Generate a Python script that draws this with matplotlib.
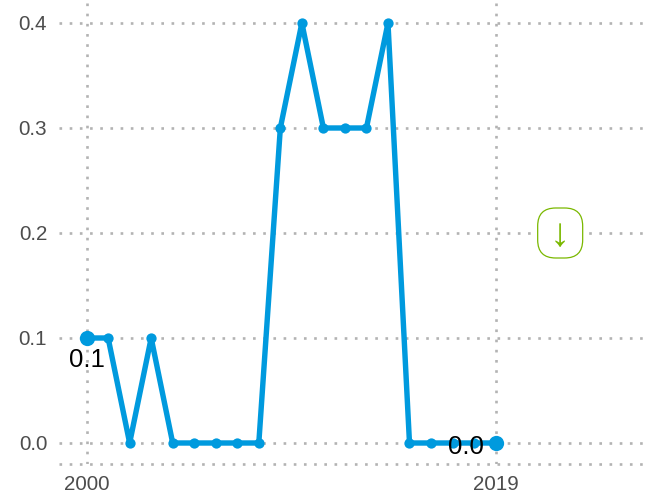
import matplotlib
matplotlib.use('Agg')
import matplotlib.pyplot as plt
from matplotlib.patches import FancyBboxPatch
from matplotlib.transforms import Affine2D

years = list(range(2000, 2020))
values = [0.1, 0.1, 0.0, 0.1, 0.0, 0.0, 0.0, 0.0, 0.0, 0.3,
          0.4, 0.3, 0.3, 0.3, 0.4, 0.0, 0.0, 0.0, 0.0, 0.0]
xticks = [2000, 2019]
yticks = [0.0, 0.1, 0.2, 0.3, 0.4]
start_label = '0.1'
end_label = '0.0'
trend_arrow = '\u2193'

W, H = 647, 496
blue = '#009ADE'
green = '#7AB800'
grid_col = '#b3b3b3'
dots = (0, (1, 2.86))

plt.rcParams['font.family'] = ['Liberation Sans', 'DejaVu Sans']

fig = plt.figure(figsize=(W / 100, H / 100), dpi=100)
ax = fig.add_axes([59 / W, 1 - 463.5 / H, (644 - 59) / W, (463.5 - 2) / H])

px_year = (495.5 - 86.5) / 19
ax.set_xlim(2000 - (86.6 - 59) / px_year, 2000 + (644 - 86.6) / px_year)
ax.set_ylim(-20.5 / 1050, 441 / 1050)

for s in ['top', 'right', 'left']:
    ax.spines[s].set_visible(False)
ax.spines['bottom'].set_color(grid_col)
ax.spines['bottom'].set_linewidth(1.9)
ax.spines['bottom'].set_linestyle(dots)
ax.spines['bottom'].set_capstyle('butt')

ax.set_xticks(xticks)
ax.set_yticks(yticks)
ax.set_yticklabels([f'{v:.1f}' for v in yticks])
ax.tick_params(length=0, labelsize=14.9, labelcolor='#4d4d4d')
ax.tick_params(axis='x', pad=8)
ax.tick_params(axis='y', pad=8.5)
ax.grid(True, color=grid_col, linewidth=1.9, linestyle=dots, dash_capstyle='butt')
ax.set_axisbelow(True)

ax.plot(years, values, color=blue, linewidth=3.9, marker='o', markersize=7.4,
        markeredgewidth=0, solid_joinstyle='round', clip_on=False)
ax.plot([years[0], years[-1]], [values[0], values[-1]], linestyle='none', color=blue,
        marker='o', markersize=11, markeredgewidth=0, clip_on=False)

ax.annotate(start_label, (years[0], values[0]), xytext=(0, -22), textcoords='offset pixels',
            ha='center', va='center', fontsize=18.5, color='black')
ax.annotate(end_label, (years[-1], values[-1]), xytext=(-29.5, -4), textcoords='offset pixels',
            ha='center', va='center', fontsize=18.5, color='black')

# trend badge, 45x50 px around (2022, 0.2)
cx, cy = ax.transData.transform((2022, 0.2))
badge = FancyBboxPatch((-22.5 + 18, -25 + 18), 45 - 36, 50 - 36,
                       boxstyle='round,pad=18,rounding_size=18',
                       facecolor='white', edgecolor=green, linewidth=0.9,
                       transform=Affine2D().translate(cx, cy), zorder=4)
ax.add_artist(badge)
ax.annotate(trend_arrow, (2022, 0.2), xytext=(0, -2), textcoords='offset pixels',
            ha='center', va='center', fontsize=29, color=green, zorder=5)

fig.savefig('out.png', dpi=100)
